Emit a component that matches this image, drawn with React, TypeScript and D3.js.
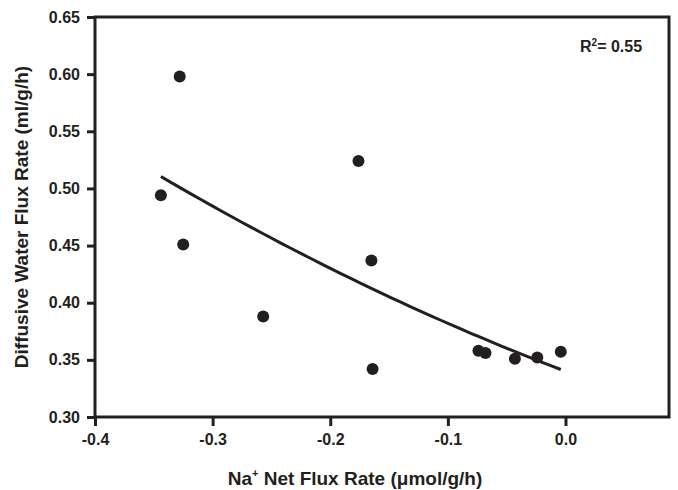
import React, { useRef, useEffect } from "react";
import * as d3 from "d3";

const width = 678;
const height = 490;
const margin = { top: 17, right: 9, bottom: 73, left: 95 };

// Na+ net flux rate (umol/g/h)
const naFlux = [
  -0.344, -0.328, -0.325, -0.257, -0.176, -0.165, -0.164, -0.074, -0.068, -0.043,
  -0.024, -0.004,
];
// diffusive water flux rate (ml/g/h)
const waterFlux = [
  0.494, 0.598, 0.451, 0.388, 0.524, 0.437, 0.342, 0.358, 0.356, 0.351, 0.352,
  0.357,
];

const xTicks = [-0.4, -0.3, -0.2, -0.1, 0.0];
const yTicks = [0.3, 0.35, 0.4, 0.45, 0.5, 0.55, 0.6, 0.65];

// fitted regression (2nd order polynomial), R^2 = 0.55
const fitCoef = [0.34, -0.3883, 0.3113];
const rSquared = "0.55";

const ink = "#231f20";
const font = "'Liberation Sans', Arial, Helvetica, sans-serif";

const App = () => {
  const gRef = useRef<SVGGElement>(null);

  useEffect(() => {
    const g = d3.select(gRef.current);
    g.selectAll("*").remove();

    const x = d3
      .scaleLinear()
      .domain([-0.4, 0.088])
      .range([margin.left, width - margin.right]);
    const y = d3
      .scaleLinear()
      .domain([0.3, 0.65])
      .range([height - margin.bottom, margin.top]);

    const xAxis = g
      .append("g")
      .attr("transform", `translate(0,${y(0.3)})`)
      .call(
        d3
          .axisBottom(x)
          .tickValues(xTicks)
          .tickSize(9)
          .tickSizeOuter(0)
          .tickPadding(8)
          .tickFormat((d: any) => (+d).toFixed(1))
      );
    const yAxis = g
      .append("g")
      .attr("transform", `translate(${x(-0.4)},0)`)
      .call(
        d3
          .axisLeft(y)
          .tickValues(yTicks)
          .tickSize(8)
          .tickSizeOuter(0)
          .tickPadding(7)
          .tickFormat((d: any) => (+d).toFixed(2))
      );
    [xAxis, yAxis].forEach((a) => {
      a.select(".domain").remove();
      a.selectAll("line").attr("stroke", ink).attr("stroke-width", 3);
      a.selectAll("text")
        .attr("fill", ink)
        .style("font-family", font)
        .style("font-weight", "bold")
        .style("font-size", "16px");
    });

    // frame
    g.append("rect")
      .attr("x", x(-0.4))
      .attr("y", y(0.65))
      .attr("width", x(0.088) - x(-0.4))
      .attr("height", y(0.3) - y(0.65))
      .attr("fill", "none")
      .attr("stroke", ink)
      .attr("stroke-width", 3);

    // regression curve over the data range
    const [x0, x1] = d3.extent(naFlux) as [number, number];
    const fit = (v: number) => fitCoef[0] + fitCoef[1] * v + fitCoef[2] * v * v;
    const curveX = d3.range(0, 41).map((i) => x0 + ((x1 - x0) * i) / 40);
    g.append("path")
      .datum(curveX)
      .attr("fill", "none")
      .attr("stroke", ink)
      .attr("stroke-width", 3)
      .attr(
        "d",
        d3
          .line<number>()
          .x((d) => x(d))
          .y((d) => y(fit(d)))
      );

    g.selectAll("circle.pt")
      .data(naFlux)
      .enter()
      .append("circle")
      .attr("class", "pt")
      .attr("cx", (d) => x(d))
      .attr("cy", (d, i) => y(waterFlux[i]))
      .attr("r", 6)
      .attr("fill", ink);

    // labels
    const r2 = g
      .append("text")
      .attr("x", 580)
      .attr("y", 52)
      .attr("fill", ink)
      .style("font-family", font)
      .style("font-weight", "bold")
      .style("font-size", "16px");
    r2.append("tspan").text("R");
    r2.append("tspan").attr("dy", -6).style("font-size", "10px").text("2");
    r2.append("tspan").attr("dy", 6).text(`= ${rSquared}`);

    const xt = g
      .append("text")
      .attr("x", 355)
      .attr("y", 485)
      .attr("text-anchor", "middle")
      .attr("fill", ink)
      .style("font-family", font)
      .style("font-weight", "bold")
      .style("font-size", "19px");
    xt.append("tspan").text("Na");
    xt.append("tspan").attr("dy", -8).style("font-size", "11px").text("+");
    xt.append("tspan").attr("dy", 8).text(" Net Flux Rate (\u03bcmol/g/h)");

    g.append("text")
      .attr("transform", `translate(28,${(y(0.3) + y(0.65)) / 2}) rotate(-90)`)
      .attr("text-anchor", "middle")
      .attr("fill", ink)
      .style("font-family", font)
      .style("font-weight", "bold")
      .style("font-size", "19px")
      .text("Diffusive Water Flux Rate (ml/g/h)");
  }, []);

  return (
    <svg
      width={width}
      height={height}
      style={{ position: "absolute", left: 0, top: 0, background: "#fff" }}
    >
      <g ref={gRef} />
    </svg>
  );
};

export default App;
